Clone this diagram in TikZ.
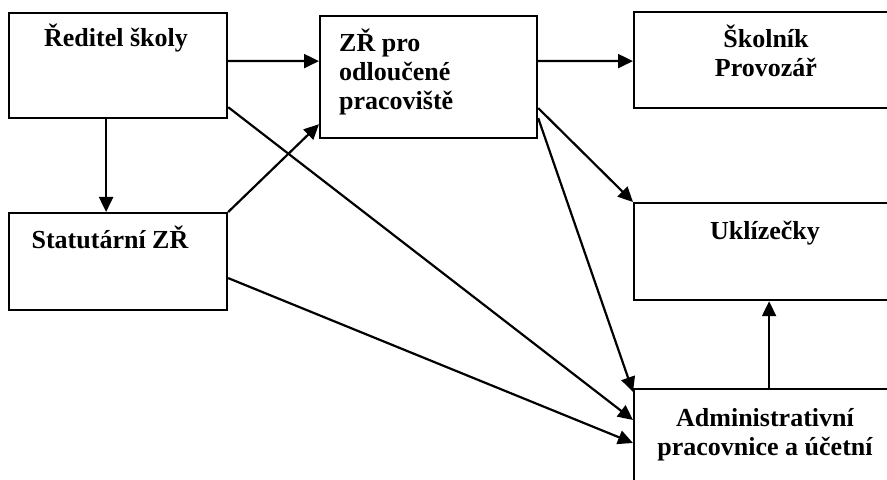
\documentclass[tikz,border=0pt]{standalone}
\usepackage{fontspec}
\setmainfont{Liberation Serif}
\usetikzlibrary{arrows.meta}
\begin{document}
\begin{tikzpicture}[x=1bp,y=-1bp,
  box/.style={draw,line width=2.2bp,rectangle,inner sep=0pt,anchor=north west},
  lbl/.style={inner sep=0pt,font=\fontsize{26bp}{29bp}\selectfont\bfseries},
  arr/.style={line width=2.2bp,-{Triangle[length=15bp,width=14bp]}}]
\useasboundingbox (0,0) rectangle (887,480);
\clip (0,0) rectangle (887,480);
% boxes
\node[box,minimum width=218bp,minimum height=105bp] (red) at (8,12) {};
\node[box,minimum width=218bp,minimum height=97bp] (stat) at (8,212) {};
\node[box,minimum width=217bp,minimum height=122bp] (zr) at (319,15) {};
\node[box,minimum width=270bp,minimum height=96bp] (skol) at (633,11) {};
\node[box,minimum width=270bp,minimum height=97bp] (ukl) at (633,202) {};
\node[box,minimum width=270bp,minimum height=97bp] (adm) at (633,388) {};
% labels (base anchor = baseline of the last line)
\node[lbl,anchor=base] (tRed) at (116,47) {Ředitel školy};
\node[lbl,anchor=base] (tStat) at (110,249) {Statutární ZŘ};
\node[lbl,anchor=base west,align=left] (tZr) at (339,110) {ZŘ pro\\odloučené\\pracoviště};
\node[lbl,anchor=base,align=center] (tSkol) at (766,77) {Školník\\Provozář};
\node[lbl,anchor=base] (tUkl) at (765,240) {Uklízečky};
\node[lbl,anchor=base,align=center] (tAdm) at (765,455) {Administrativní\\pracovnice a účetní};
% connectors
\draw[arr] ([yshift=4.5bp]red.east) -- ([yshift=16bp]zr.west);
\draw[arr] ([xshift=-12bp]red.south) -- ([xshift=-12bp]stat.north);
\draw[arr] ([yshift=16bp]zr.east) -- ([yshift=-1bp]skol.west);
\draw[arr] (stat.north east) -- ([yshift=15bp]zr.south west);
\draw[arr] ([yshift=12bp]red.south east) -- ([yshift=-32bp]adm.north west);
\draw[arr] ([yshift=-16.5bp]stat.east) -- ([yshift=-55bp]adm.north west);
\draw[arr] ([yshift=-31bp]zr.east) -- (ukl.north west);
\draw[arr] ([yshift=-41bp]zr.east) -- ([yshift=-4bp]adm.north west);
\draw[arr] (adm.north) -- (ukl.south);
\end{tikzpicture}
\end{document}
